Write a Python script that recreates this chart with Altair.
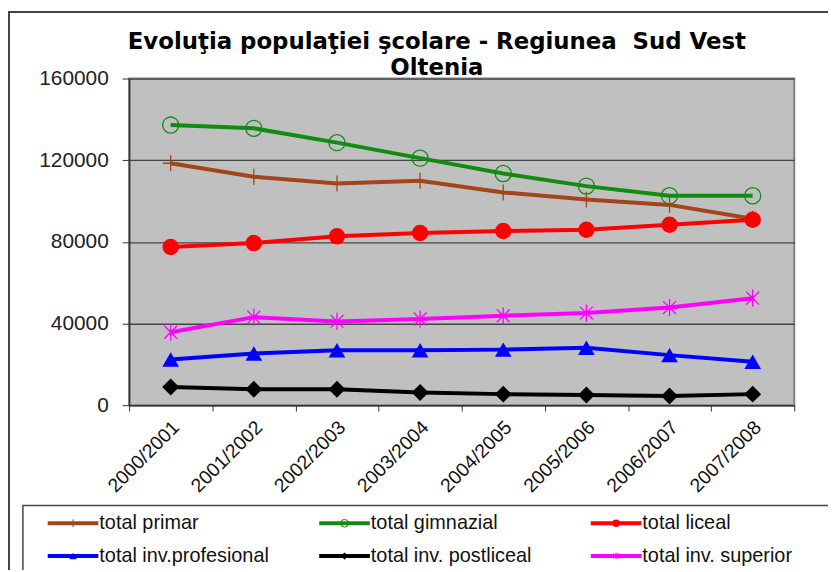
import altair as alt
import pandas as pd

years = ["2000/2001", "2001/2002", "2002/2003", "2003/2004",
         "2004/2005", "2005/2006", "2006/2007", "2007/2008"]

series_names = ["total primar", "total gimnazial", "total liceal",
                "total inv.profesional", "total inv. postliceal", "total inv. superior"]

primar = [118500, 111900, 108600, 109900, 104200, 100700, 98100, 91300]
gimnazial = [137200, 135600, 128600, 121000, 113500, 107300, 102600, 102600]
liceal = [77500, 79400, 82700, 84300, 85300, 85900, 88400, 90800]
profesional = [22400, 25300, 26900, 26900, 27200, 28100, 24500, 21300]
postliceal = [8900, 7800, 7800, 6200, 5400, 5000, 4500, 5400]
superior = [35700, 43100, 41000, 42200, 43800, 45100, 47800, 52400]

# the double space after "Regiunea" is kept visible with a no-break space
title_lines = ["Evoluţia populaţiei şcolare - Regiunea\u00a0 Sud Vest", "Oltenia"]

colors = ["#A3441B", "#138A13", "#FF0000", "#0000FF", "#000000", "#FF00FF"]
shapes = ["M-1,0H1M0,-1V1", "circle", "circle", "triangle-up", "diamond",
          "M-0.75,-0.75L0.75,0.75M-0.75,0.75L0.75,-0.75M0,-1V1"]
plot_sizes = [256, 300, 260, 260, 190, 330]
legend_sizes = [64, 50, 64, 64, 50, 64]

all_values = [primar, gimnazial, liceal, profesional, postliceal, superior]
rows = []
for name, vals in zip(series_names, all_values):
    for yr, v in zip(years, vals):
        rows.append({"series": name, "year": yr, "value": v})
df = pd.DataFrame(rows)

leg_rows = []
for i, name in enumerate(series_names):
    leg_rows.append({"series": name, "col": i % 3, "row": i // 3})
leg_df = pd.DataFrame(leg_rows)

FONT = "Liberation Sans"
TITLE_FONT = "DejaVu Sans"
stroked = ["total primar", "total gimnazial", "total inv. superior"]
filled = ["total liceal", "total inv.profesional", "total inv. postliceal"]

color_scale = alt.Scale(domain=series_names, range=colors)
shape_scale = alt.Scale(domain=series_names, range=shapes)

x_main = alt.X("year:N", sort=years,
               scale=alt.Scale(domain=years, paddingInner=0, paddingOuter=0),
               axis=alt.Axis(title=None, labelAngle=-45, labelAlign="right",
                             labelBaseline="middle", labelFontSize=19.5, labelFont=FONT,
                             labelColor="#111", labelPadding=13, labelOffset=5,
                             tickBand="extent", tickSize=6, tickColor="#333",
                             domainColor="#333", domainWidth=1.5, grid=False))
y_main = alt.Y("value:Q", scale=alt.Scale(domain=[0, 160000], nice=False),
               axis=alt.Axis(title=None, values=[0, 40000, 80000, 120000, 160000],
                             format="d", labelFontSize=21, labelFont=FONT,
                             labelColor="#222", labelPadding=14, tickSize=7,
                             tickColor="#333", domainColor="#333", domainWidth=1.5,
                             grid=True, gridColor="#444", gridWidth=1.3))
color_enc = alt.Color("series:N", scale=color_scale, legend=None)

base = alt.Chart(df).encode(x=x_main, y=y_main, color=color_enc)

lines = base.mark_line(strokeWidth=4).encode(order=alt.Order("year:N"))

pts_stroked = base.mark_point(filled=False, strokeWidth=1.3, opacity=1).encode(
    shape=alt.Shape("series:N", scale=shape_scale, legend=None),
    size=alt.Size("series:N", scale=alt.Scale(domain=series_names, range=plot_sizes), legend=None),
).transform_filter(alt.FieldOneOfPredicate(field="series", oneOf=stroked))

pts_filled = base.mark_point(filled=True, opacity=1).encode(
    shape=alt.Shape("series:N", scale=shape_scale, legend=None),
    size=alt.Size("series:N", scale=alt.Scale(domain=series_names, range=plot_sizes), legend=None),
).transform_filter(alt.FieldOneOfPredicate(field="series", oneOf=filled))

main = alt.layer(lines, pts_stroked, pts_filled)

# custom legend
lx = alt.X("col:Q", scale=alt.Scale(domain=[0, 2], range=[-56.5, 490.5]), axis=None)
ly = alt.Y("row:Q", scale=alt.Scale(domain=[0, 1], range=[448, 481]), axis=None)
leg_base = alt.Chart(leg_df).encode(x=lx, y=ly, color=color_enc)

leg_line = leg_base.mark_point(shape="M-1,0H1", size=2601, strokeWidth=4,
                               filled=False, opacity=1)
leg_ms = leg_base.mark_point(filled=False, strokeWidth=1, opacity=1).encode(
    shape=alt.Shape("series:N", scale=shape_scale, legend=None),
    size=alt.Size("series:N", scale=alt.Scale(domain=series_names, range=legend_sizes), legend=None),
).transform_filter(alt.FieldOneOfPredicate(field="series", oneOf=stroked))
leg_mf = leg_base.mark_point(filled=True, opacity=1).encode(
    shape=alt.Shape("series:N", scale=shape_scale, legend=None),
    size=alt.Size("series:N", scale=alt.Scale(domain=series_names, range=legend_sizes), legend=None),
).transform_filter(alt.FieldOneOfPredicate(field="series", oneOf=filled))
leg_text = alt.Chart(leg_df).mark_text(align="left", baseline="middle", dx=26.5,
                                       fontSize=20, font=FONT, color="#111").encode(
    x=lx, y=ly, text="series:N")

frame_df = pd.DataFrame({"k": [0]})
leg_box = alt.Chart(frame_df).mark_rect(fillOpacity=0, stroke="#444", strokeWidth=1.5).encode(
    x=alt.value(-107), x2=alt.value(900), y=alt.value(430), y2=alt.value(640))
outer_box = alt.Chart(frame_df).mark_rect(fillOpacity=0, stroke="#444", strokeWidth=2).encode(
    x=alt.value(-121), x2=alt.value(900), y=alt.value(-67), y2=alt.value(660))

title1 = alt.Chart(frame_df).mark_text(
    text=title_lines[0], font=TITLE_FONT, fontSize=23, fontWeight="bold", color="#000",
    align="center", baseline="middle").encode(x=alt.value(310), y=alt.value(-37))
title2 = alt.Chart(frame_df).mark_text(
    text=title_lines[1], font=TITLE_FONT, fontSize=23, fontWeight="bold", color="#000",
    align="center", baseline="middle").encode(x=alt.value(310), y=alt.value(-11))

legend = alt.layer(outer_box, leg_box, leg_line, leg_ms, leg_mf, leg_text, title1, title2)

chart = alt.layer(main, legend).resolve_scale(
    x="independent", y="independent", size="independent"
).properties(
    width=670, height=329,
    autosize=alt.AutoSizeParams(type="none"),
    padding={"left": 122, "top": 69, "right": 34, "bottom": 164},
    background="white",
).configure_view(fill="#C0C0C0", stroke="#808080", strokeWidth=2)

chart.save("out.html", embed_options={"renderer": "svg", "actions": False})
